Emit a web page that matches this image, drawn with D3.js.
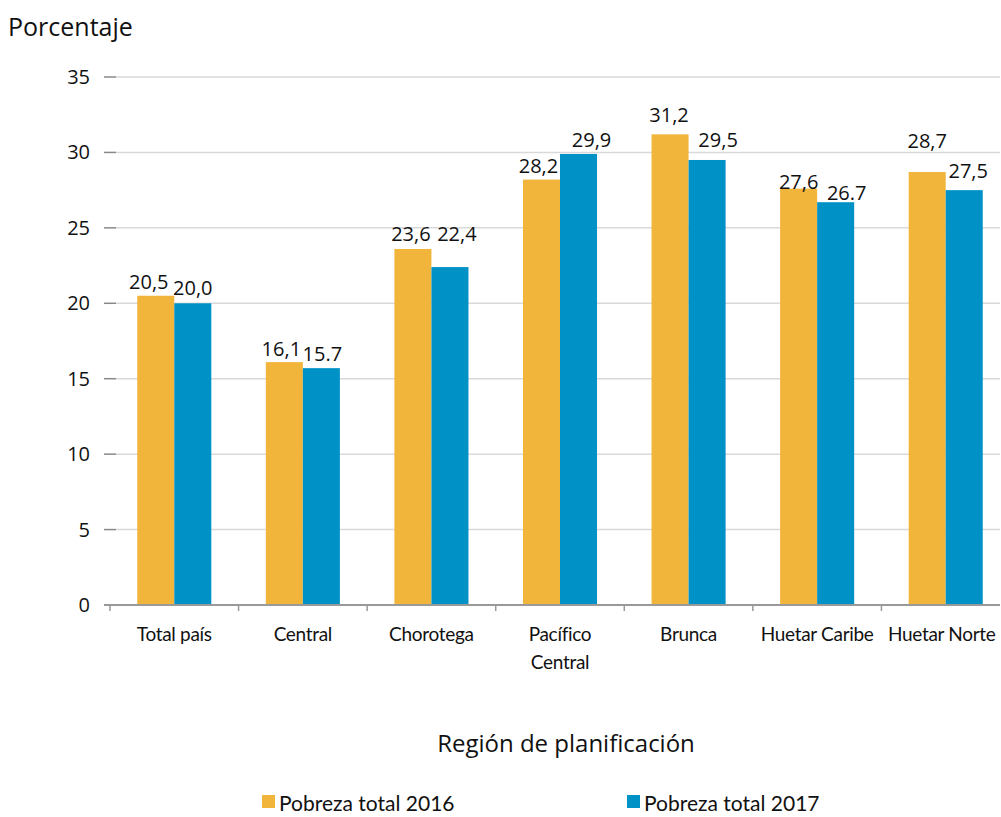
<!DOCTYPE html>
<html><head><meta charset="utf-8">
<script src="https://cdn.jsdelivr.net/npm/d3@7"></script>
<style>body{margin:0;background:#fff}</style>
</head><body>
<svg id="c" width="1001" height="817"></svg>
<script>
const categories = ["Total país","Central","Chorotega","Pacífico Central","Brunca","Huetar Caribe","Huetar Norte"];
const categoryLines = [["Total país"],["Central"],["Chorotega"],["Pacífico","Central"],["Brunca"],["Huetar Caribe"],["Huetar Norte"]];
const series = ["Pobreza total 2016","Pobreza total 2017"];
const values2016 = [20.5,16.1,23.6,28.2,31.2,27.6,28.7];
const values2017 = [20.0,15.7,22.4,29.9,29.5,26.7,27.5];
const labels2016 = ["20,5","16,1","23,6","28,2","31,2","27,6","28,7"];
const labels2017 = ["20,0","15.7","22,4","29,9","29,5","26.7","27,5"];
const yTicks = [0,5,10,15,20,25,30,35];
const colors = ["#F2B53C","#0092C7"];
// label placement tweaks (style only): [dx, lift above bar]
const labelShift2016 = [[-7,7],[-3,6],[-2,8],[-3,7],[-1,12],[0,0],[0,24]];
const labelShift2017 = [[0,8],[1,7],[7,26],[13,7],[11,13],[11,2],[4,12]];

const svg = d3.select("#c");
const x = d3.scaleBand().domain(categories).range([110,1010]);
const y = d3.scaleLinear().domain([0,35]).range([605,77]);
const bw = x.bandwidth()*0.288;

// gridlines
svg.append("g").selectAll("line").data(yTicks.slice(1)).join("line")
  .attr("x1",116).attr("x2",1000).attr("y1",d=>y(d)).attr("y2",d=>y(d))
  .attr("stroke","#d9d9d9").attr("stroke-width",1.5);
// y tick marks
svg.append("g").selectAll("line").data(yTicks).join("line")
  .attr("x1",104).attr("x2",116).attr("y1",d=>y(d)).attr("y2",d=>y(d))
  .attr("stroke","#888").attr("stroke-width",1.5);
svg.append("g").selectAll("text").data(yTicks).join("text")
  .attr("x",90).attr("y",d=>y(d)+7).attr("text-anchor","end")
  .attr("font-family","Open Sans").attr("font-size",20).attr("fill","#111")
  .text(d=>d);

const sets = [values2016, values2017];
const labs = [labels2016, labels2017];
const shifts = [labelShift2016, labelShift2017];
sets.forEach((vals,si)=>{
  svg.append("g").selectAll("rect").data(categories).join("rect")
    .attr("x",(d)=>x(d)+x.bandwidth()/2 - bw + si*bw)
    .attr("width",bw)
    .attr("y",(d,i)=>y(vals[i]))
    .attr("height",(d,i)=>y(0)-y(vals[i]))
    .attr("fill",colors[si]);
  svg.append("g").selectAll("text").data(categories).join("text")
    .attr("x",(d,i)=>x(d)+x.bandwidth()/2 - bw/2 + si*bw + shifts[si][i][0])
    .attr("y",(d,i)=>y(vals[i]) - shifts[si][i][1])
    .attr("text-anchor","middle")
    .attr("font-family","Open Sans").attr("font-size",20).attr("fill","#111")
    .text((d,i)=>labs[si][i]);
});

// x axis line
svg.append("line").attr("x1",104).attr("x2",1000).attr("y1",605).attr("y2",605)
  .attr("stroke","#999").attr("stroke-width",2);
const bounds = categories.map(d=>x(d));
svg.append("g").selectAll("line").data(bounds).join("line")
  .attr("x1",d=>d).attr("x2",d=>d).attr("y1",605).attr("y2",611)
  .attr("stroke","#999").attr("stroke-width",1.5);
// category labels
svg.append("g").selectAll("text").data(categories).join("text")
  .attr("x",d=>x(d)+x.bandwidth()/2).attr("y",641)
  .attr("text-anchor","middle").attr("font-family","Lato").attr("font-size",19)
  .attr("letter-spacing",-0.3).attr("fill","#111")
  .each(function(d,i){
    const t=d3.select(this);
    const cx = x(d)+x.bandwidth()/2 - (i===categories.length-1?4:0);
    categoryLines[i].forEach((ln,j)=>t.append("tspan").attr("x",cx).attr("dy",j?28:0).text(ln));
  });

svg.append("text").attr("x",8).attr("y",36).attr("font-family","Open Sans").attr("font-size",25).attr("fill","#111").text("Porcentaje");
svg.append("text").attr("x",566).attr("y",752).attr("text-anchor","middle").attr("font-family","Open Sans").attr("font-size",24).attr("fill","#111").text("Región de planificación");

// legend
const legX = [262,627];
series.forEach((s,i)=>{
  svg.append("rect").attr("x",legX[i]).attr("y",795).attr("width",13).attr("height",13).attr("fill",colors[i]);
  svg.append("text").attr("x",legX[i]+17).attr("y",811).attr("font-family","Lato").attr("font-size",21).attr("fill","#111").text(s);
});
</script>
</body></html>
